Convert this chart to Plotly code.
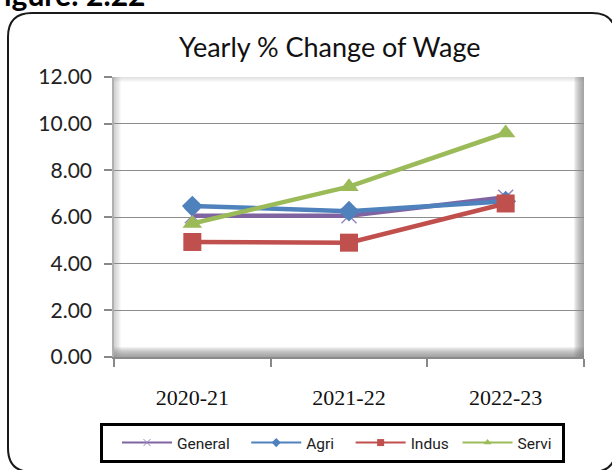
import plotly.graph_objects as go

# ---- data ----
years = ["2020-21", "2021-22", "2022-23"]
general = [6.05, 6.05, 6.85]
agri = [6.47, 6.25, 6.68]
indus = [4.93, 4.90, 6.58]
servi = [5.72, 7.30, 9.60]
y_tick_vals = [0, 2, 4, 6, 8, 10, 12]
y_tick_text = ["0.00", "2.00", "4.00", "6.00", "8.00", "10.00", "12.00"]
series_names = ["General", "Agri", "Indus", "Servi"]
title_text = "Yearly % Change of Wage"
figure_label = "Figure: 2.22"

# ---- geometry helpers (pixel -> paper) ----
W, H = 612, 470
L, R, T, B = 114, 28, 77, 113
PW, PH = W - L - R, H - T - B


def px(x):
    return (x - L) / PW


def py(y):
    return (H - B - y) / PH


colors = ["#8064A2", "#4F81BD", "#C0504D", "#9BBB59"]
symbols = ["x-thin", "diamond", "square", "triangle-up"]
sizes = [15, 16, 18, 17]
values = [general, agri, indus, servi]
NB = "\u00a0"
legend_pad = [NB * 3, NB * 3, NB * 1, ""]

fig = go.Figure()

for name, vals, c, s, sz in zip(series_names, values, colors, symbols, sizes):
    marker = dict(symbol=s, size=sz, color=c)
    if s == "x-thin":
        marker["line"] = dict(color="#9A86BF", width=1.5)
    fig.add_trace(go.Scatter(
        x=years, y=vals, mode="lines+markers", name=name,
        line=dict(color=c, width=4.5), marker=marker, showlegend=False,
        hoverinfo="skip"))

# legend-only entries with small markers
for name, pad, c, s in zip(series_names, legend_pad, colors, symbols):
    marker = dict(symbol=s, size=7, color=c)
    if s == "x-thin":
        marker["line"] = dict(color="#9A86BF", width=1)
    fig.add_trace(go.Scatter(
        x=[None], y=[None], mode="lines+markers", name=name + pad,
        line=dict(color=c, width=2), marker=marker, showlegend=True))

shapes = []


def edge(side, n, op, color="#808080"):
    for i in range(n):
        d = i + 1
        base = dict(type="rect", xref="x domain", yref="y domain",
                    fillcolor=color, opacity=op, line_width=0, layer="below")
        if side == "right":
            base.update(xsizemode="pixel", xanchor=1, x0=-d, x1=0, y0=0, y1=1)
        elif side == "left":
            base.update(xsizemode="pixel", xanchor=0, x0=0, x1=d, y0=0, y1=1)
        elif side == "bottom":
            base.update(ysizemode="pixel", yanchor=0, y0=0, y1=d, x0=0, x1=1)
        else:
            base.update(ysizemode="pixel", yanchor=1, y0=-d, y1=0, x0=0, x1=1)
        shapes.append(base)


edge("right", 10, 0.11)
edge("bottom", 10, 0.11)
edge("left", 7, 0.06)
edge("top", 5, 0.05)

# outer rounded frame
x0, y0, x1, y1, r = 8, 13, 616, 472, 24
path = (f"M {px(x0)},{py(y0 + r)} Q {px(x0)},{py(y0)} {px(x0 + r)},{py(y0)} "
        f"L {px(x1 - r)},{py(y0)} Q {px(x1)},{py(y0)} {px(x1)},{py(y0 + r)} "
        f"L {px(x1)},{py(y1 - r)} Q {px(x1)},{py(y1)} {px(x1 - r)},{py(y1)} "
        f"L {px(x0 + r)},{py(y1)} Q {px(x0)},{py(y1)} {px(x0)},{py(y1 - r)} Z")
shapes.append(dict(type="path", xref="paper", yref="paper", path=path,
                   line=dict(color="#1a1a1a", width=2), layer="above"))
# legend box
shapes.append(dict(type="rect", xref="paper", yref="paper",
                   x0=px(101.5), x1=px(563.5), y0=py(424.5), y1=py(461.5),
                   line=dict(color="black", width=3), fillcolor="rgba(0,0,0,0)",
                   layer="above"))

annotations = [
    dict(text=title_text, x=px(330), y=py(47), xref="paper", yref="paper",
         showarrow=False, xanchor="center", yanchor="middle",
         font=dict(family="Lato", size=27, color="#111")),
    dict(text=f"<b>{figure_label}</b>", x=px(147), y=py(-6), xref="paper", yref="paper",
         showarrow=False, xanchor="right", yanchor="middle",
         font=dict(family="Lato", size=30, color="#000")),
]

fig.update_layout(
    width=W, height=H,
    margin=dict(l=L, r=R, t=T, b=B, autoexpand=False),
    paper_bgcolor="white", plot_bgcolor="white",
    shapes=shapes, annotations=annotations,
    showlegend=True,
    legend=dict(orientation="h", x=px(117), y=py(426), xanchor="left", yanchor="top",
                borderwidth=0, bgcolor="rgba(0,0,0,0)",
                font=dict(family="Roboto", size=15.5, color="#222"),
                itemwidth=50, traceorder="normal"),
)

fig.update_xaxes(
    type="category", range=[-0.5, 2.5], tickson="boundaries",
    ticks="outside", ticklen=8, tickcolor="#888", tickwidth=1.5,
    showline=True, linecolor="#8a8a8a", linewidth=1.5,
    showgrid=False, ticklabelstandoff=20,
    tickfont=dict(family="Liberation Serif", size=22, color="#111"),
    fixedrange=True)

fig.update_yaxes(
    range=[0, 12], tickvals=y_tick_vals, ticktext=y_tick_text,
    ticks="outside", ticklen=8, tickcolor="#888", tickwidth=1.5,
    showline=True, linecolor="#b0b0b0", linewidth=1.5,
    showgrid=True, gridcolor="#8c8c8c", gridwidth=1.2, zeroline=False,
    ticklabelstandoff=8,
    tickfont=dict(family="Lato", size=21, color="#222"),
    fixedrange=True)

fig.write_html("out.html", post_script="document.body.style.margin='0';",
               config={"displayModeBar": False})
